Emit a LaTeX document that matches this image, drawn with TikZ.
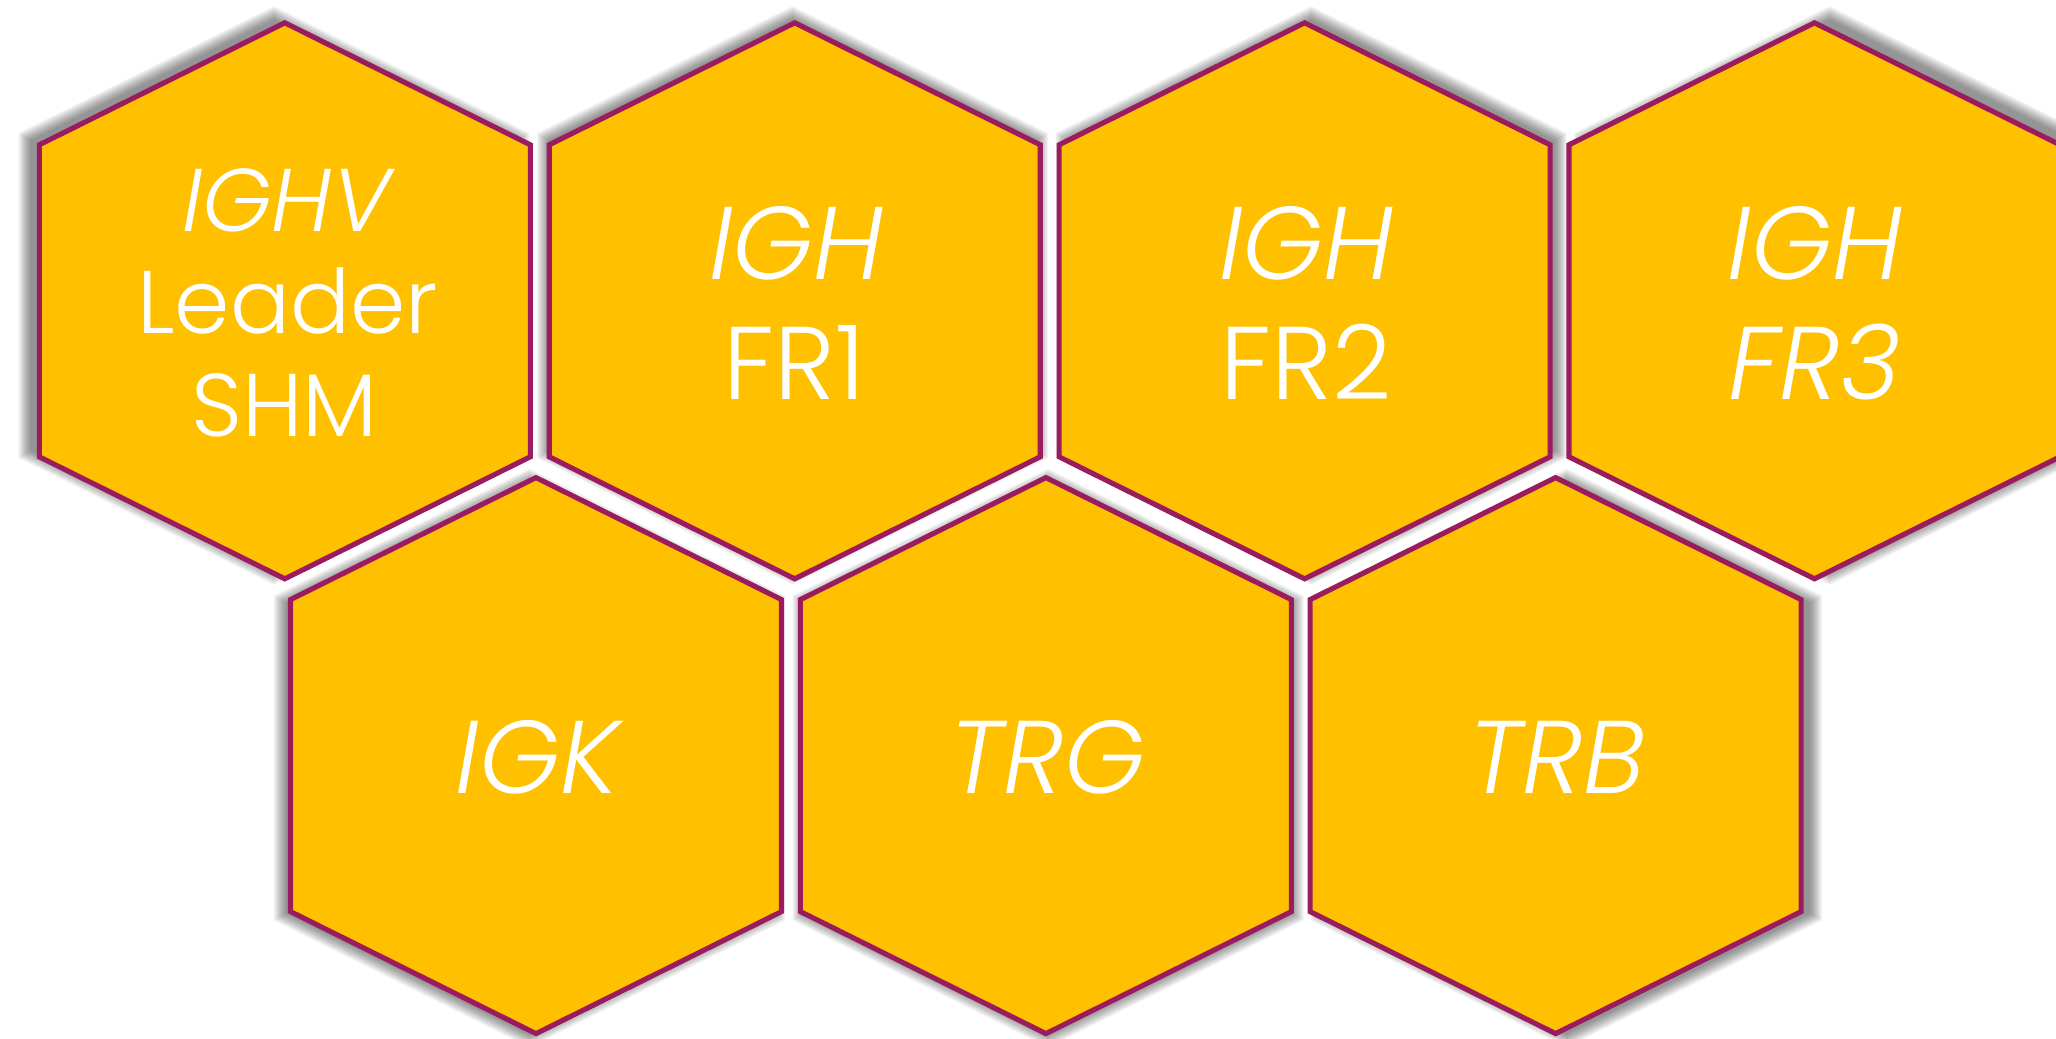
\documentclass[tikz,border=0pt]{standalone}
\usepackage{fontspec}
\newfontfamily\hexfont{Poppins}[UprightFont=* Light, ItalicFont=* Light Italic]
\definecolor{honey}{HTML}{FFC000}
\definecolor{plum}{HTML}{9A1B5E}

% one hexagonal cell (pointy top) around the centre #1,#2
\newcommand\hexcell[2]{(#1,#2-278) -- (#1+245.5,#2-156) -- (#1+245.5,#2+156)
  -- (#1,#2+278) -- (#1-245.5,#2+156) -- (#1-245.5,#2-156) -- cycle}
% the same cell moved inwards by #3 (outwards when #3 is negative)
\newcommand\shadecell[3]{({#1},{#2-278+1.116*(#3)}) -- ({#1+245.5-(#3)},{#2-156+0.619*(#3)})
  -- ({#1+245.5-(#3)},{#2+156-0.619*(#3)}) -- ({#1},{#2+278-1.116*(#3)})
  -- ({#1-245.5+(#3)},{#2+156-0.619*(#3)}) -- ({#1-245.5+(#3)},{#2-156+0.619*(#3)}) -- cycle}
\newcommand\allshades[1]{%
  \shadecell{284.8}{300.8}{#1} \shadecell{794.7}{300.8}{#1}
  \shadecell{1304.6}{300.8}{#1} \shadecell{1814.5}{300.8}{#1}
  \shadecell{536.0}{755.6}{#1} \shadecell{1045.9}{755.6}{#1} \shadecell{1555.6}{755.6}{#1}}

\tikzset{
  cellface/.style={fill=honey, draw=plum, line width=1.45pt, line join=miter},
  celltext/.style={text=white, inner sep=0pt, anchor=base,
    font=\hexfont\fontsize{29.4}{35}\selectfont},
  smalltext/.style={celltext, font=\hexfont\fontsize{25.3}{30}\selectfont},
}

\begin{document}
\begin{tikzpicture}[x=0.01cm, y=-0.01cm]
\useasboundingbox (0,0) rectangle (2056,1038);
\clip (0,0) rectangle (2056,1038);

% soft shadow: a slightly enlarged copy of the comb, faded over thin layers
\begin{scope}[scale around={1.017:(920,615)}]
  \foreach \d in {-6,-5.25,...,6} {
    \path[fill=black, opacity=0.033] \allshades{\d};
  }
\end{scope}

% the cells
\path[cellface] \hexcell{284.8}{300.8};
\path[cellface] \hexcell{794.7}{300.8};
\path[cellface] \hexcell{1304.6}{300.8};
\path[cellface] \hexcell{1814.5}{300.8};
\path[cellface] \hexcell{536.0}{755.6};
\path[cellface] \hexcell{1045.9}{755.6};
\path[cellface] \hexcell{1555.6}{755.6};

% labels
\node[smalltext] (ighv)   at (286.5,231.7) {\itshape IGHV};
\node[smalltext] (leader) at (287.5,333.3) {Leader};
\node[smalltext] (shm)    at (284.8,436.7) {SHM};

\node[celltext] (igh1) at (796.5,279.3) {\itshape IGH};
\node[celltext] (fr1)  at (794.7,399.3) {FR1};
\node[celltext] (igh2) at (1306.4,279.3) {\itshape IGH};
\node[celltext] (fr2)  at (1306.0,399.3) {FR2};
\node[celltext] (igh3) at (1815.0,279.3) {\itshape IGH};
\node[celltext] (fr3)  at (1815.0,399.3) {\itshape FR3};

\node[celltext] (igk) at (537.5,793.1) {\itshape IGK};
\node[celltext] (trg) at (1047.5,793.1) {\itshape TRG};
\node[celltext] (trb) at (1557.0,793.1) {\itshape TRB};
\end{tikzpicture}
\end{document}
